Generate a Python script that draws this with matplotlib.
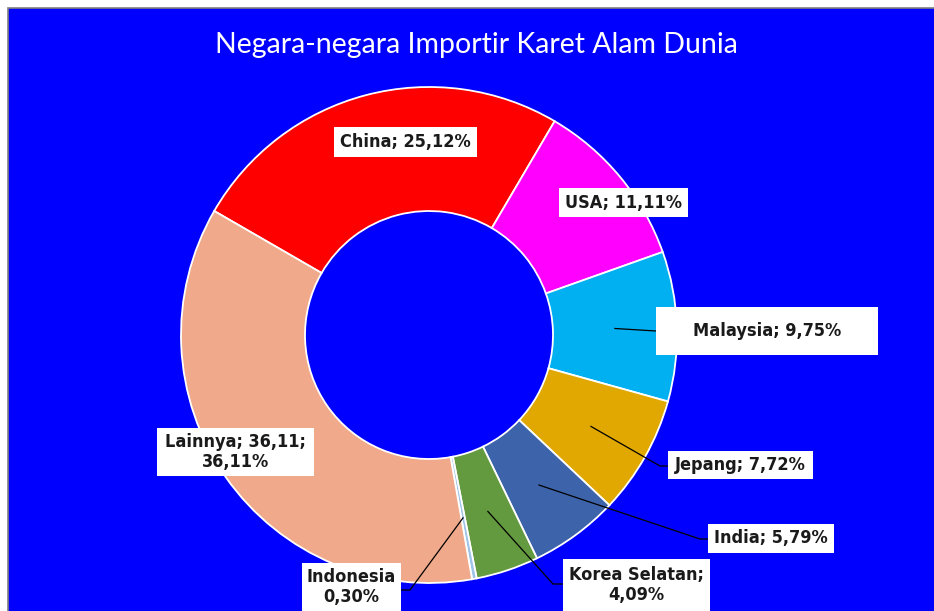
import matplotlib
matplotlib.use("Agg")
import matplotlib.pyplot as plt
from matplotlib.patches import Rectangle
import numpy as np

# ---- data ----
countries = ["China", "USA", "Malaysia", "Jepang", "India", "Korea Selatan", "Indonesia", "Lainnya"]
shares = [25.12, 11.11, 9.75, 7.72, 5.79, 4.09, 0.30, 36.11]
label_texts = ["China; 25,12%", "USA; 11,11%", "Malaysia; 9,75%", "Jepang; 7,72%",
               "India; 5,79%", "Korea Selatan;\n4,09%", "Indonesia\n0,30%",
               "Lainnya; 36,11;\n36,11%"]
colors = ["#FF0000", "#FF00FF", "#00B0F0", "#E0A800", "#3D64AA", "#63993F", "#9DC3E6", "#F0A98A"]
title = "Negara-negara Importir Karet Alam Dunia"

W, H = 934, 611
fig = plt.figure(figsize=(W / 100, H / 100), dpi=100)
fig.patch.set_facecolor("white")

def fx(x):
    return x / W

def fy(y):
    return 1 - y / H

# blue chart area with grey border (top/left visible)
fig.patches.append(Rectangle((fx(8), -0.02), 1.05 - fx(8), fy(8) + 0.02, transform=fig.transFigure,
                             facecolor="#0000FF", edgecolor="#808080", linewidth=1.2, zorder=0))

# pie axes
cx, cy, R = 429, 335, 248
ax = fig.add_axes([fx(cx - R), fy(cy + R), 2 * R / W, 2 * R / H])
ax.set_zorder(1)
ax.patch.set_alpha(0)

startangle = 150
wedges, _ = ax.pie(shares, colors=colors, startangle=startangle, counterclock=False,
                   radius=1, wedgeprops=dict(width=0.5, edgecolor="white", linewidth=1.3))
ax.set_aspect("auto")
ax.set_xlim(-1, 1)
ax.set_ylim(-1, 1)
ax.axis("off")

fig.text(fx(476), fy(45), title, color="white", fontsize=20.5, family="Lato",
         ha="center", va="center", zorder=5)

# label boxes (pixel layout: left, top, right, bottom)
boxes = {
    "China": (334, 127, 477, 157),
    "USA": (559, 188, 688, 217),
    "Malaysia": (656, 307, 878, 355),
    "Jepang": (668, 451, 813, 479),
    "India": (708, 524, 834, 553),
    "Korea Selatan": (563, 559, 710, 616),
    "Indonesia": (302, 563, 401, 616),
    "Lainnya": (157, 428, 314, 476),
}
# leader endpoint on box (pixel) and elbow
leaders = {
    "Malaysia": [(656, 331)],
    "Jepang": [(660, 466), (668, 466)],
    "India": [(700, 539), (708, 539)],
    "Korea Selatan": [(553, 584), (563, 584)],
    "Indonesia": [(410, 590), (401, 590)],
}

total = sum(shares)
cum = 0.0
for name, val, txt in zip(countries, shares, label_texts):
    mid = cum + val / 2
    cum += val
    ang = np.deg2rad(startangle - 360 * mid / total)
    l, t, r, b = boxes[name]
    fig.patches.append(Rectangle((fx(l), fy(b)), fx(r) - fx(l), fy(t) - fy(b),
                                 transform=fig.transFigure, facecolor="white",
                                 edgecolor="none", zorder=3))
    fig.text(fx((l + r) / 2), fy((t + b) / 2) + (0.0 if b < 600 else 0.004),
             txt, ha="center", va="center", fontsize=13, fontweight="bold",
             family="DejaVu Sans", fontstretch="condensed", color="#1a1a1a",
             linespacing=1.1, zorder=4)
    if name in leaders:
        sx = cx + 0.75 * R * np.cos(ang)
        sy = cy - 0.75 * R * np.sin(ang)
        pts = [(sx, sy)] + leaders[name]
        xs = [fx(p[0]) for p in pts]
        ys = [fy(p[1]) for p in pts]
        fig.add_artist(plt.Line2D(xs, ys, transform=fig.transFigure, color="black",
                                  linewidth=0.9, zorder=2))

fig.savefig("out.png", dpi=100, facecolor="white")
